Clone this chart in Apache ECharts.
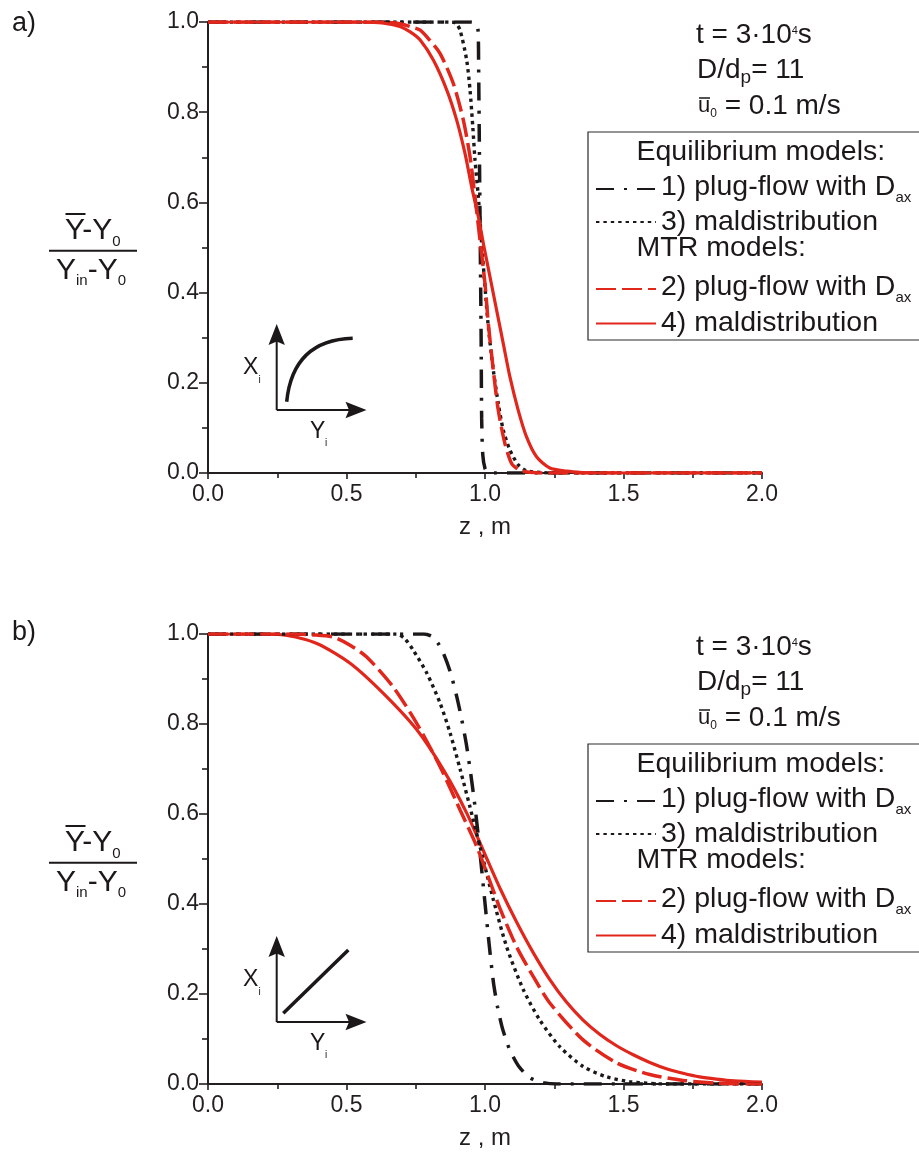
<!DOCTYPE html>
<html>
<head>
<meta charset="utf-8">
<script src="https://cdn.jsdelivr.net/npm/echarts@6/dist/echarts.min.js"></script>
<style>
html,body{margin:0;padding:0;background:#ffffff;}
#chart{width:919px;height:1155px;}
</style>
</head>
<body>
<div id="chart"></div>
<script>
// ---------------- data (z in m, normalized concentration) ----------------
const xMin = 0, xMax = 2.0, xInterval = 0.5;
const yMin = 0, yMax = 1.0, yInterval = 0.2;
const xTickLabels = ['0.0', '0.5', '1.0', '1.5', '2.0'];
const yTickLabels = ['0.0', '0.2', '0.4', '0.6', '0.8', '1.0'];

// panel a) favourable (Langmuir-type) isotherm
const eqPlugA = [[0,1],[0.95,1],[0.968,0.997],[0.975,0.98],[0.977,0.9],[0.98,0.7],[0.983,0.5],[0.986,0.3],[0.988,0.12],[0.992,0.04],[1.0,0.01],[1.01,0.002],[1.03,0],[2.0,0]];
const eqMalA = [[0,1],[0.88,1],[0.895,0.997],[0.91,0.982],[0.934,0.915],[0.946,0.849],[0.956,0.767],[0.964,0.693],[0.976,0.612],[0.988,0.508],[1.0,0.413],[1.012,0.324],[1.03,0.228],[1.048,0.154],[1.066,0.095],[1.09,0.051],[1.12,0.018],[1.15,0.005],[1.2,0.001],[1.25,0],[2.0,0]];
const mtrPlugA = [[0,1],[0.6,1],[0.65,0.999],[0.693,0.996],[0.73,0.99],[0.766,0.982],[0.8,0.96],[0.838,0.93],[0.886,0.863],[0.922,0.782],[0.946,0.701],[0.964,0.612],[0.982,0.516],[1.0,0.42],[1.012,0.331],[1.03,0.228],[1.048,0.139],[1.072,0.065],[1.096,0.021],[1.12,0.008],[1.138,0.004],[1.17,0.001],[1.2,0],[2.0,0]];
const mtrMalA = [[0,1],[0.55,1],[0.6,0.999],[0.65,0.996],[0.693,0.99],[0.73,0.978],[0.766,0.96],[0.814,0.915],[0.862,0.849],[0.898,0.782],[0.928,0.708],[0.952,0.634],[0.976,0.568],[0.994,0.509],[1.018,0.435],[1.042,0.361],[1.066,0.287],[1.09,0.213],[1.12,0.139],[1.15,0.08],[1.186,0.036],[1.234,0.011],[1.295,0.004],[1.35,0.001],[1.4,0],[2.0,0]];

// panel b) linear isotherm
const eqPlugB = [[0,1],[0.78,1],[0.81,0.994],[0.83,0.98],[0.85,0.957],[0.875,0.915],[0.898,0.861],[0.916,0.81],[0.934,0.75],[0.958,0.646],[0.976,0.55],[0.994,0.439],[1.012,0.328],[1.03,0.228],[1.045,0.172],[1.061,0.128],[1.075,0.1],[1.09,0.075],[1.121,0.04],[1.162,0.014],[1.21,0.003],[1.26,0],[2.0,0]];
const eqMalB = [[0,1],[0.68,1],[0.71,0.99],[0.741,0.964],[0.79,0.913],[0.838,0.846],[0.874,0.78],[0.91,0.7],[0.946,0.615],[0.982,0.527],[1.03,0.41],[1.078,0.305],[1.138,0.21],[1.198,0.142],[1.27,0.083],[1.354,0.039],[1.439,0.016],[1.523,0.005],[1.6,0.001],[1.65,0],[2.0,0]];
const mtrPlugB = [[0,1],[0.3,1],[0.38,0.998],[0.453,0.993],[0.513,0.975],[0.573,0.949],[0.669,0.882],[0.754,0.801],[0.838,0.705],[0.91,0.609],[0.97,0.528],[1.03,0.43],[1.054,0.39],[1.114,0.305],[1.174,0.239],[1.234,0.18],[1.354,0.098],[1.475,0.047],[1.595,0.021],[1.715,0.008],[1.835,0.002],[1.95,0],[2.0,0]];
const mtrMalB = [[0,1],[0.15,1],[0.273,0.998],[0.393,0.979],[0.513,0.935],[0.633,0.868],[0.754,0.787],[0.85,0.698],[0.934,0.602],[1.0,0.51],[1.054,0.435],[1.114,0.36],[1.174,0.292],[1.234,0.232],[1.294,0.182],[1.354,0.142],[1.415,0.11],[1.475,0.085],[1.535,0.065],[1.595,0.048],[1.655,0.034],[1.715,0.024],[1.775,0.016],[1.835,0.011],[1.9,0.007],[2.0,0.004]];

const legendLabels = {
  eqPlug: '{n|1) plug-flow with D}{s|ax}',
  eqMal: '3) maldistribution',
  mtrPlug: '{n|2) plug-flow with D}{s|ax}',
  mtrMal: '4) maldistribution'
};

// ---------------- styles ----------------
const FONT = '"Liberation Sans", Arial, Helvetica, sans-serif';
const INK = '#1c1819';
const RED = '#e1261c';
const AX = '#231f20';

const lineStyles = {
  eqPlug: {color: INK, width: 3.5, type: [18, 10, 3, 10], cap: 'butt'},
  eqMal: {color: INK, width: 3.4, type: [3.4, 4], cap: 'butt'},
  mtrPlug: {color: RED, width: 3.5, type: [20, 6], cap: 'butt'},
  mtrMal: {color: RED, width: 3.2, type: 'solid'}
};

function xAxisCfg(i) {
  return {
    gridIndex: i, type: 'value', min: xMin, max: xMax, interval: xInterval,
    axisLine: {show: true, onZero: false, lineStyle: {color: AX, width: 2}},
    axisTick: {show: true, inside: false, length: 6, lineStyle: {color: AX, width: 1.6}},
    minorTick: {show: true, splitNumber: 2, length: 5, lineStyle: {color: AX, width: 1.6}},
    splitLine: {show: false},
    axisLabel: {color: AX, fontSize: 23, fontFamily: FONT, margin: 10,
      formatter: v => xTickLabels[Math.round((v - xMin) / xInterval)]},
    name: 'z , m', nameLocation: 'middle', nameGap: 42,
    nameTextStyle: {color: AX, fontSize: 24, fontFamily: FONT}
  };
}
function yAxisCfg(i) {
  return {
    gridIndex: i, type: 'value', min: yMin, max: yMax, interval: yInterval,
    axisLine: {show: true, onZero: false, lineStyle: {color: AX, width: 2}},
    axisTick: {show: true, inside: false, length: 9, lineStyle: {color: AX, width: 1.6}},
    minorTick: {show: true, splitNumber: 2, length: 6, lineStyle: {color: AX, width: 1.6}},
    splitLine: {show: false},
    axisLabel: {color: AX, fontSize: 23, fontFamily: FONT, margin: 9,
      formatter: v => yTickLabels[Math.round((v - yMin) / yInterval)]}
  };
}

function mkSeries(key, data, gi) {
  return {
    name: key, type: 'line', xAxisIndex: gi, yAxisIndex: gi, data: data,
    symbol: 'none', smooth: 0.25, animation: false, clip: true,
    lineStyle: lineStyles[key], itemStyle: {color: lineStyles[key].color}
  };
}

const legendText = {
  color: INK, fontSize: 28.5, fontFamily: FONT,
  rich: {
    n: {fontSize: 28.5, fontFamily: FONT, color: INK, verticalAlign: 'top', padding: [0, 0, 4, 0]},
    s: {fontSize: 15, fontFamily: FONT, color: INK, verticalAlign: 'bottom'}
  }
};
function mkLegend(key, top) {
  return {
    data: [key], left: 595, top: top, orient: 'vertical', padding: 0,
    itemWidth: 60, itemHeight: 36, selectedMode: false,
    itemStyle: {opacity: 0},
    formatter: n => legendLabels[n], textStyle: legendText
  };
}

function panelLegends(D) {
  return [
    mkLegend('eqPlug', 172.5 + D),
    mkLegend('eqMal', 207.5 + D),
    mkLegend('mtrPlug', 272.5 + D),
    mkLegend('mtrMal', 309 + D)
  ];
}

function txt(x, y, text, size, extra) {
  return {type: 'text', silent: true, z: 100,
    style: Object.assign({x: x, y: y, text: text, fill: INK,
      font: size + 'px ' + FONT, align: 'left', verticalAlign: 'middle'}, extra || {})};
}
function seg(x1, y1, x2, y2, w) {
  return {type: 'line', silent: true, z: 100, shape: {x1, y1, x2, y2}, style: {stroke: INK, lineWidth: w}};
}
function poly(points) {
  return {type: 'polygon', silent: true, z: 100, shape: {points}, style: {fill: INK}};
}

function panelGraphic(D, linear, label, labelY) {
  const g = [];
  // panel label
  g.push(txt(12, labelY, label, 27));
  // y-axis fraction label
  const fracRich = {
    m: {fontSize: 30, fontFamily: FONT, fill: INK, verticalAlign: 'top', padding: [0, 0, 3, 0]},
    s: {fontSize: 15, fontFamily: FONT, fill: INK, verticalAlign: 'bottom'}
  };
  g.push(txt(65, 232.5 + D, '{m|Y-Y}{s|0}', 30, {rich: fracRich}));
  g.push(seg(65.5, 214 + D, 85.5, 214 + D, 2));
  g.push(seg(49, 250.7 + D, 137, 250.7 + D, 2));
  g.push(txt(56, 272 + D, '{m|Y}{s|in}{m|-Y}{s|0}', 30, {rich: fracRich}));
  // annotations
  g.push(txt(696, 35.5 + D, '{m|t = 3·10}{p|4}{m|s}', 28, {rich: {
    m: {fontSize: 28, fontFamily: FONT, fill: INK, verticalAlign: 'bottom'},
    p: {fontSize: 11, fontFamily: FONT, fill: INK, verticalAlign: 'top', padding: [4, 0, 0, 0]}
  }}));
  g.push(txt(697, 71.5 + D, '{m|D/d}{s|p}{m|= 11}', 28, {rich: {
    m: {fontSize: 28, fontFamily: FONT, fill: INK, verticalAlign: 'top', padding: [0, 0, 3, 0]},
    s: {fontSize: 19, fontFamily: FONT, fill: INK, verticalAlign: 'bottom'}
  }}));
  g.push(txt(698, 106 + D, '{u|u}{s|0}{m| = 0.1 m/s}', 28, {rich: {
    u: {fontSize: 22, fontFamily: FONT, fill: INK, verticalAlign: 'bottom', padding: [0, 0, 3, 0]},
    s: {fontSize: 12, fontFamily: FONT, fill: INK, verticalAlign: 'bottom'},
    m: {fontSize: 28, fontFamily: FONT, fill: INK, verticalAlign: 'bottom'}
  }}));
  g.push(seg(699, 98 + D, 710, 98 + D, 1.5));
  // legend frame and headers
  g.push({type: 'rect', silent: true, z: 90, shape: {x: 588, y: 132 + D, width: 370, height: 208},
    style: {fill: 'rgba(0,0,0,0)', stroke: '#2a2a2a', lineWidth: 1.2}});
  g.push(txt(636.5, 152.5 + D, 'Equilibrium models:', 28.5));
  g.push(txt(636.5, 248 + D, 'MTR models:', 28.5));
  // inset isotherm sketch
  g.push(seg(276.7, 410 + D, 276.7, 341 + D, 2));
  g.push(poly([[276.7, 324 + D], [268.5, 345 + D], [276.7, 341.5 + D], [284.9, 345 + D]]));
  g.push(seg(276.7, 410 + D, 350, 410 + D, 2));
  g.push(poly([[366.5, 410 + D], [345.5, 401.8 + D], [349, 410 + D], [345.5, 418.2 + D]]));
  if (linear) {
    g.push(seg(283.3, 401.3 + D, 348.3, 338 + D, 3.5));
  } else {
    g.push({type: 'bezierCurve', silent: true, z: 100,
      shape: {x1: 286.7, y1: 401.7 + D, cpx1: 293, cpy1: 340 + D, x2: 352.7, y2: 338.3 + D},
      style: {stroke: INK, lineWidth: 3.5, fill: null}});
  }
  g.push(txt(243, 368 + D, 'X', 23));
  g.push(txt(258.5, 380 + D, 'i', 10));
  g.push(txt(310, 432 + D, 'Y', 23));
  g.push(txt(325, 443 + D, 'i', 10));
  return g;
}

const D = 612;
const option = {
  animation: false,
  backgroundColor: '#ffffff',
  textStyle: {fontFamily: FONT},
  grid: [
    {left: 208, top: 22, width: 554, height: 451, containLabel: false},
    {left: 208, top: 634, width: 554, height: 450, containLabel: false}
  ],
  xAxis: [xAxisCfg(0), xAxisCfg(1)],
  yAxis: [yAxisCfg(0), yAxisCfg(1)],
  legend: panelLegends(0).concat(panelLegends(D)),
  series: [
    mkSeries('eqMal', eqMalA, 0),
    mkSeries('eqPlug', eqPlugA, 0),
    mkSeries('mtrPlug', mtrPlugA, 0),
    mkSeries('mtrMal', mtrMalA, 0),
    mkSeries('mtrMal', mtrMalB, 1),
    mkSeries('eqMal', eqMalB, 1),
    mkSeries('eqPlug', eqPlugB, 1),
    mkSeries('mtrPlug', mtrPlugB, 1)
  ],
  graphic: {elements: panelGraphic(0, false, 'a)', 24).concat(panelGraphic(D, true, 'b)', 633))}
};

const chart = echarts.init(document.getElementById('chart'), null, {renderer: 'canvas', width: 919, height: 1155});
chart.setOption(option);
</script>
</body>
</html>
